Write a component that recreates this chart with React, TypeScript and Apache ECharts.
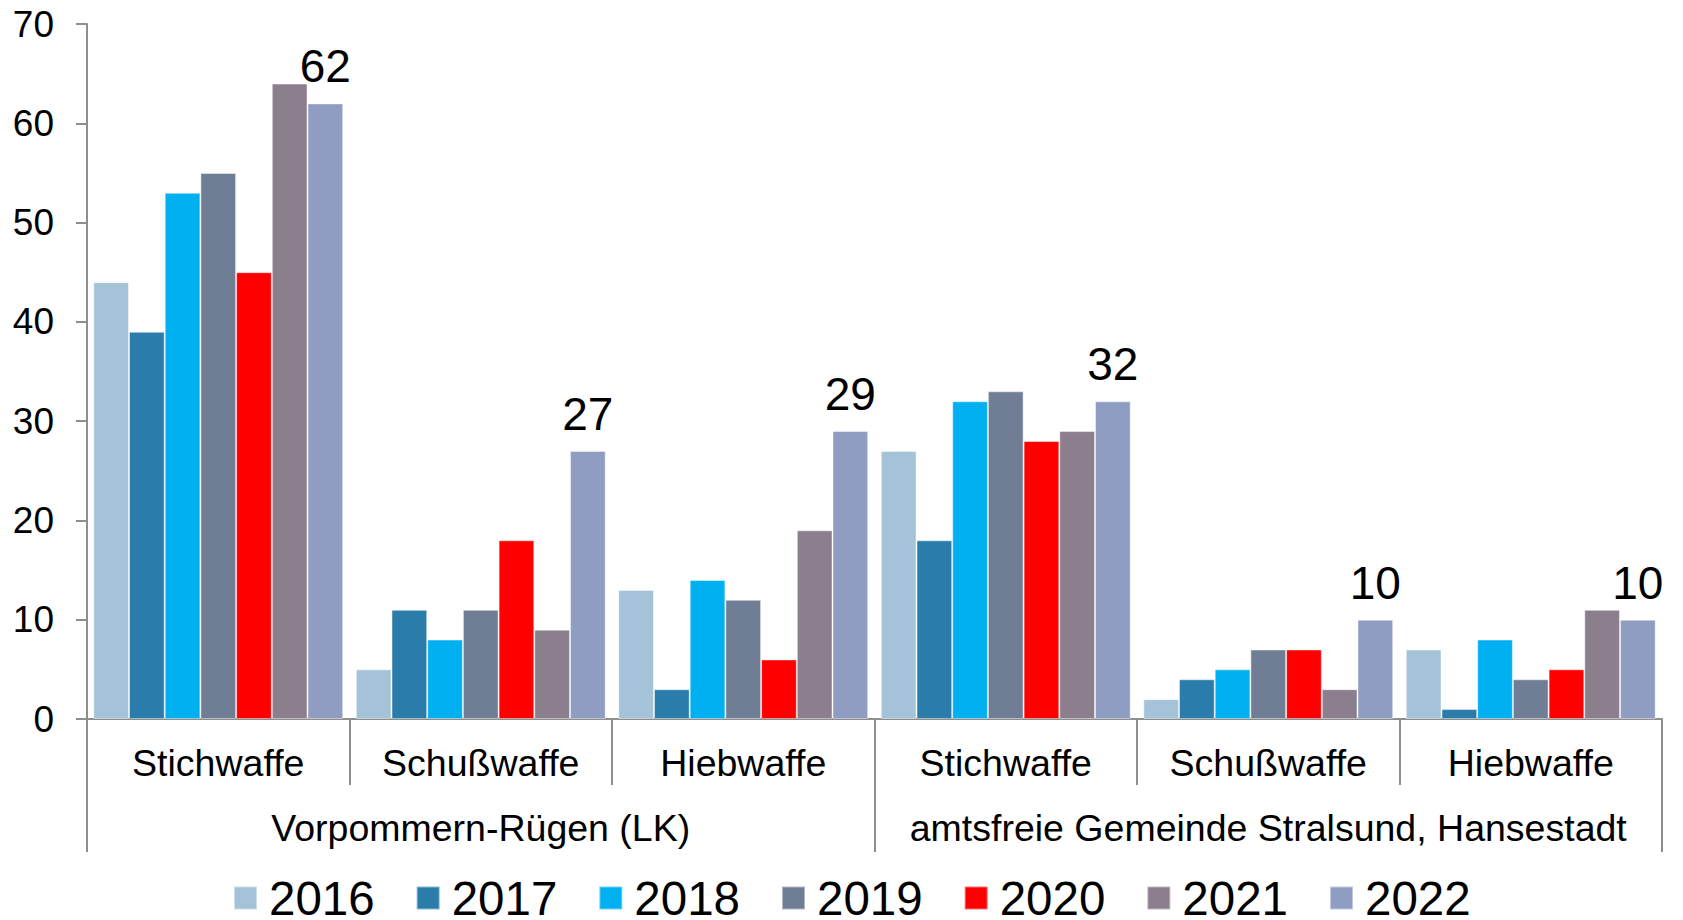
import React, { useEffect, useRef } from "react";
import * as echarts from "echarts";

const categories = ["Stichwaffe", "Schußwaffe", "Hiebwaffe", "Stichwaffe", "Schußwaffe", "Hiebwaffe"];
const groups = ["Vorpommern-Rügen (LK)", "amtsfreie Gemeinde Stralsund, Hansestadt"];
const years = ["2016", "2017", "2018", "2019", "2020", "2021", "2022"];
const v2016 = [44, 5, 13, 27, 2, 7];
const v2017 = [39, 11, 3, 18, 4, 1];
const v2018 = [53, 8, 14, 32, 5, 8];
const v2019 = [55, 11, 12, 33, 7, 4];
const v2020 = [45, 18, 6, 28, 7, 5];
const v2021 = [64, 9, 19, 29, 3, 11];
const v2022 = [62, 27, 29, 32, 10, 10];
const colors = ["#A5C3D8", "#2A7DAA", "#00B0F0", "#6F7D95", "#FF0000", "#8B7F8D", "#8F9DC2"];

const FONT = "'Liberation Sans', Arial, sans-serif";

export default function App() {
  const ref = useRef<HTMLDivElement>(null);
  useEffect(() => {
    const chart = echarts.init(ref.current!, undefined, { renderer: "svg" });
    const values = [v2016, v2017, v2018, v2019, v2020, v2021, v2022];
    chart.setOption({
      animation: false,
      textStyle: { fontFamily: FONT },
      grid: { left: 87, right: 21, top: 24, bottom: 201, containLabel: false },
      legend: {
        data: years,
        left: 228,
        top: 869,
        itemWidth: 23,
        itemHeight: 23,
        itemGap: 41,
        icon: "rect",
        textStyle: { fontSize: 47.5, lineHeight: 46, color: "#000", fontFamily: FONT, padding: [0, 0, 0, 7] },
      },
      xAxis: [
        {
          type: "category",
          data: categories,
          position: "bottom",
          axisLine: { show: true, lineStyle: { color: "#8E8E8E", width: 2 } },
          axisTick: { show: true, length: 66, lineStyle: { color: "#8E8E8E", width: 2 } },
          axisLabel: { interval: 0, fontSize: 37.5, color: "#000", margin: 25, fontFamily: FONT },
        },
        {
          type: "category",
          data: groups,
          position: "bottom",
          axisLine: { show: false },
          axisTick: { show: true, length: 133, lineStyle: { color: "#8E8E8E", width: 2 } },
          axisLabel: { interval: 0, fontSize: 37.5, color: "#000", margin: 90, fontFamily: FONT },
        },
      ],
      yAxis: {
        type: "value",
        min: 0,
        max: 70,
        interval: 10,
        splitLine: { show: false },
        axisLine: { show: true, lineStyle: { color: "#8E8E8E", width: 2 } },
        axisTick: { show: true, length: 11, lineStyle: { color: "#8E8E8E", width: 2 } },
        axisLabel: { fontSize: 37, color: "#000", margin: 33, fontFamily: FONT },
      },
      series: years.map((y, i) => ({
        name: y,
        type: "bar",
        xAxisIndex: 0,
        data: values[i],
        barGap: "0%",
        barCategoryGap: "4.8%",
        itemStyle: { color: colors[i], borderColor: "rgba(255,255,255,0.45)", borderWidth: 1 },
        label:
          i === 6
            ? { show: true, position: "top", distance: 14, fontSize: 46, color: "#000", fontFamily: FONT }
            : { show: false },
      })),
    });
    return () => chart.dispose();
  }, []);
  return <div ref={ref} style={{ position: "absolute", left: 0, top: 0, width: 1683, height: 920 }} />;
}
